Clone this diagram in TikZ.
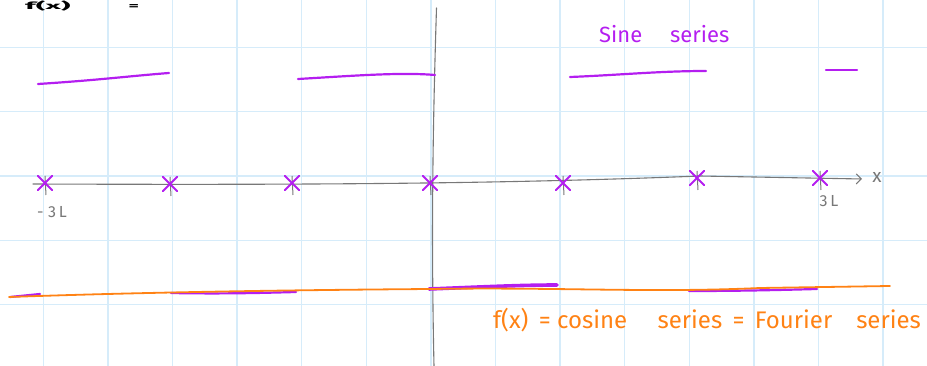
\documentclass[tikz,border=0pt]{standalone}
\usepackage{fontspec}
\setmainfont{Fira Sans}
\usetikzlibrary{arrows.meta}
\definecolor{gridblue}{RGB}{214,236,250}
\definecolor{axgray}{RGB}{120,120,120}
\definecolor{pur}{RGB}{180,30,240}
\definecolor{org}{RGB}{255,130,20}
\tikzset{
  gridline/.style={draw=gridblue,line width=1.3pt},
  axis/.style={draw=axgray,line width=1.1pt,line cap=round},
  seg/.style={draw=pur,line width=2.2pt,line cap=round},
  fat/.style={draw=pur,line width=3.6pt,line cap=round},
  oline/.style={draw=org,line width=1.8pt,line cap=round},
  xmark/.style={draw=pur,line width=1.8pt,line cap=round},
  tick/.style={draw=axgray,line width=1pt},
  lab/.style={text=axgray,font=\fontsize{16}{16}\selectfont,inner sep=0pt},
}
\begin{document}
\begin{tikzpicture}[x=1pt,y=-1pt]
\useasboundingbox (0,0) rectangle (927,366);
\clip (0,0) rectangle (927,366);
% grid
\foreach \i in {-1,...,14} {\draw[gridline] ({43.3+64.6*\i},0) -- ({43.3+64.6*\i},366);}
\foreach \j in {-1,...,5} {\draw[gridline] (0,{47.3+64.3*\j}) -- (927,{47.3+64.3*\j});}
% title at top (only its lower part shows in the reference)
\node[anchor=north west,inner sep=0pt,font=\bfseries\fontsize{10}{10}\selectfont] (title) at (25,0.5) {\scalebox{3}[1]{f(x)}\hspace{58pt}\scalebox{2}[1]{=}};
% vertical axis
\coordinate (vt) at (436.5,8);
\coordinate (vb) at (434,366);
\draw[axis] (vt) .. controls (433,120) and (431,230) .. (vb);
% horizontal axis
\coordinate (hl) at (33,184);
\coordinate (hr) at (862,179);
\draw[axis,-{Straight Barb[length=5pt,width=10pt]}] (hl) .. controls (300,185) and (500,184) .. (700,176) -- (hr);
\node[lab,font=\fontsize{19}{19}\selectfont] (xl) at (877,177) {x};
% ticks and crosses
\foreach \n/\x/\y in {c1/45/183,c2/170/184,c3/292/183,c4/430/183,c5/563/183,c6/697/178,c7/820/178} {
  \draw[tick] (\x,\y-7) -- (\x+1,\y+12);
  \node[inner sep=0pt,minimum size=14pt] (\n) at (\x,\y) {};
  \draw[xmark] (\n.north west) -- (\n.south east) (\n.north east) -- (\n.south west);
}
\node[lab] (m3l) at (52,212) {-\;3\,L};
\node[lab] (p3l) at (829,201) {3\,L};
% sine series (top)
\coordinate (s1a) at (38,84); \coordinate (s1b) at (169,73);
\coordinate (s2a) at (298,79); \coordinate (s2b) at (435,75);
\coordinate (s3a) at (570,77); \coordinate (s3b) at (706,71);
\coordinate (s4a) at (826,70); \coordinate (s4b) at (857,70);
\draw[seg] (s1a) .. controls (100,80) and (130,76) .. (s1b);
\draw[seg] (s2a) .. controls (350,76) and (400,72) .. (s2b);
\draw[seg] (s3a) .. controls (620,75) and (660,71) .. (s3b);
\draw[seg] (s4a) -- (s4b);
\node[text=pur,font=\fontsize{22}{22}\selectfont,inner sep=0pt,anchor=west] (sine) at (599,34) {Sine\quad\ series};
% bottom: purple segments then orange line
\coordinate (b1a) at (10,297); \coordinate (b1b) at (40,294);
\coordinate (b2a) at (171,293); \coordinate (b2b) at (296,292);
\coordinate (b3a) at (429,289); \coordinate (b3b) at (557,285);
\coordinate (b4a) at (689,291); \coordinate (b4b) at (817,289);
\draw[seg] (b1a) -- (b1b);
\draw[seg] (b2a) .. controls (220,294) and (260,293) .. (b2b);
\draw[fat] (b3a) .. controls (480,287) and (520,285) .. (b3b);
\draw[seg] (b4a) .. controls (740,291) and (780,290) .. (b4b);
\coordinate (oa) at (9,297);
\coordinate (ob) at (890,286);
\draw[oline] (oa) .. controls (150,292) and (300,290) .. (430,289) .. controls (560,287) and (650,293) .. (760,288) -- (ob);
\node[text=org,font=\fontsize{24}{24}\selectfont,inner sep=0pt,anchor=west] (fx) at (493,320) {f(x) \,= cosine\quad\ series \,= \,Fourier\quad series};
\end{tikzpicture}
\end{document}
